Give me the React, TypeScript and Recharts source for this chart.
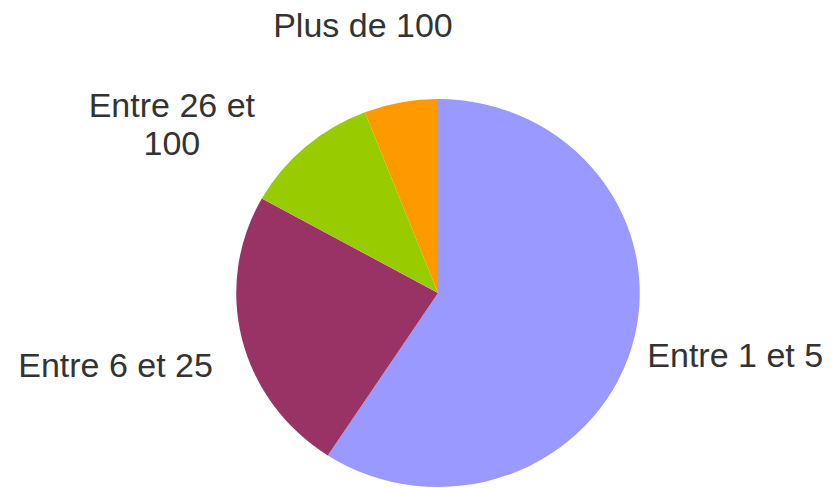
import { Cell, Pie, PieChart } from 'recharts'

const categories = ['Entre 1 et 5', 'Entre 6 et 25', 'Entre 26 et 100', 'Plus de 100']
const shares = [59.2, 23.9, 11.0, 5.9]
// how each category label wraps, as in the original
const labelText = ['Entre 1 et 5', 'Entre 6 et 25', 'Entre 26 et\n100', 'Plus de 100']
const colors = ['#9999ff', '#993366', '#99cc00', '#ff9900']

// the source pie is slightly wider than tall
const STRETCH = 1.04
const CX = 438
const CY = 293
const FONT = '"Liberation Sans", Arial, sans-serif'
const LINE_H = 38
// hand tweaks so the labels sit where the original placed them
const labelNudge: [number, number][] = [
  [-4, 1],
  [-9, 21],
  [-120, -8],
  [-34, -58],
]

const data = categories.map((name, i) => ({ name, value: shares[i] }))

function SliceLabel(props: any) {
  const { cx, cy, midAngle, outerRadius, index } = props
  const rad = Math.PI / 180
  const dist = outerRadius + 20
  const cos = Math.cos(-midAngle * rad)
  const sin = Math.sin(-midAngle * rad)
  const lines = labelText[index].split('\n')
  const x = cx + dist * cos * STRETCH + labelNudge[index][0]
  const y = cy + dist * sin + labelNudge[index][1]
  let anchor: 'start' | 'end' | 'middle' = 'middle'
  if (lines.length === 1) {
    if (cos > 0.3) anchor = 'start'
    else if (cos < -0.3) anchor = 'end'
  }
  const top = y - ((lines.length - 1) * LINE_H) / 2
  return (
    <text
      x={x}
      y={top}
      textAnchor={anchor}
      dominantBaseline="central"
      fill="#333333"
      fontSize={34}
      fontFamily={FONT}
    >
      {lines.map((line, i) => (
        <tspan key={i} x={x} dy={i === 0 ? 0 : LINE_H}>
          {line}
        </tspan>
      ))}
    </text>
  )
}

export default function App() {
  return (
    <div style={{ position: 'absolute', left: 0, top: 0, background: '#fff' }}>
      <style>{`.recharts-pie-sector { transform-origin: ${CX}px ${CY}px; transform: scaleX(${STRETCH}); }`}</style>
      <PieChart width={839} height={488} margin={{ top: 0, right: 0, bottom: 0, left: 0 }}>
        <Pie
          data={data}
          dataKey="value"
          nameKey="name"
          cx={CX}
          cy={CY}
          outerRadius={194}
          startAngle={90}
          endAngle={-270}
          stroke="none"
          label={SliceLabel}
          labelLine={false}
          isAnimationActive={false}
        >
          {data.map((d, i) => (
            <Cell key={d.name} fill={colors[i]} />
          ))}
        </Pie>
      </PieChart>
    </div>
  )
}
